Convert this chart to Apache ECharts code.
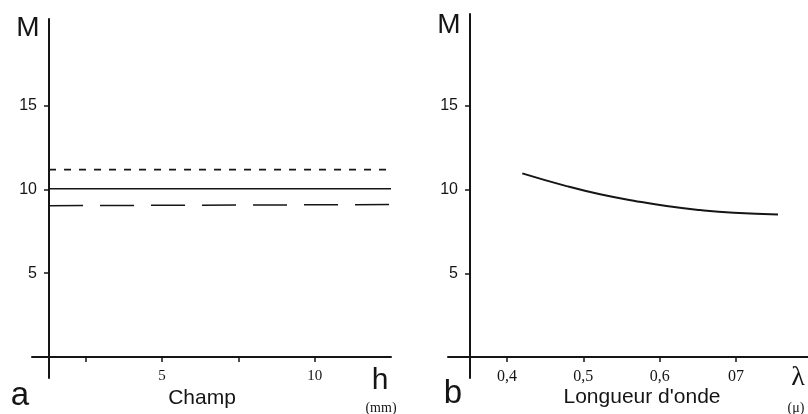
<!DOCTYPE html>
<html>
<head>
<meta charset="utf-8">
<script src="https://cdn.jsdelivr.net/npm/echarts@6/dist/echarts.min.js"></script>
<style>
html,body{margin:0;padding:0;background:#fff;}
#chart{width:808px;height:414px;}
</style>
</head>
<body>
<div id="chart"></div>
<script>
// ---- Panel a: M versus field h (mm) ----
var hValues = [1.3, 12.5];
var mShortDash = [11.18, 11.18];
var mSolid = [10.04, 10.04];
var mLongDash = [9.03, 9.1];
var hTickValues = [2.5, 5, 7.5, 10];
var hLabelValues = [5, 10];

// ---- Panel b: M versus wavelength (µ) ----
var lambdaValues = [0.42, 0.478, 0.522, 0.566, 0.609, 0.653, 0.697, 0.755];
var mLambda = [10.96, 10.2, 9.71, 9.33, 9.01, 8.77, 8.61, 8.51];
var lambdaTickValues = [0.4, 0.5, 0.6, 0.7];
var lambdaTickLabels = ['0,4', '0,5', '0,6', '07'];

var mTickValues = [5, 10, 15];

function pairs(xs, ys) { return xs.map(function (x, i) { return [x, ys[i]]; }); }

var INK = '#151515';
var SANS = '"Liberation Sans", Arial, sans-serif';
var SERIF = '"Liberation Serif", "Times New Roman", serif';

function yAxisCfg(gridIndex, offset, max) {
  return {
    type: 'value', gridIndex: gridIndex, position: 'left', offset: offset,
    min: -1.25, max: max,
    axisLine: { show: true, onZero: false, lineStyle: { color: INK, width: 2 } },
    axisTick: { show: true, length: 5, customValues: mTickValues, lineStyle: { color: INK, width: 1.5 } },
    axisLabel: { customValues: mTickValues, margin: 12, color: INK, fontSize: 16, fontFamily: SANS },
    splitLine: { show: false }
  };
}

var option = {
  animation: false,
  backgroundColor: '#ffffff',
  grid: [
    { left: 32, top: 19, width: 359, height: 359 },
    { left: 448, top: 14, width: 360, height: 364 }
  ],
  xAxis: [
    {
      type: 'value', gridIndex: 0, position: 'bottom', offset: -21,
      min: 0.742, max: 12.5,
      axisLine: { show: true, onZero: false, lineStyle: { color: INK, width: 2 } },
      axisTick: { show: true, length: 5, customValues: hTickValues, lineStyle: { color: INK, width: 1.5 } },
      axisLabel: { customValues: hLabelValues, margin: 12, color: INK, fontSize: 15, fontFamily: SERIF },
      splitLine: { show: false }
    },
    {
      type: 'value', gridIndex: 1, position: 'bottom', offset: -21,
      min: 0.3227, max: 0.7943,
      axisLine: { show: true, onZero: false, lineStyle: { color: INK, width: 2 } },
      axisTick: { show: true, length: 5, customValues: lambdaTickValues, lineStyle: { color: INK, width: 1.5 } },
      axisLabel: {
        customValues: lambdaTickValues, margin: 12, color: INK, fontSize: 16, fontFamily: SERIF,
        formatter: function (v) {
          for (var i = 0; i < lambdaTickValues.length; i++) {
            if (Math.abs(lambdaTickValues[i] - v) < 1e-6) return lambdaTickLabels[i];
          }
          return '';
        }
      },
      splitLine: { show: false }
    }
  ],
  yAxis: [
    yAxisCfg(0, -17, 20.17),
    yAxisCfg(1, -22, 20.47)
  ],
  series: [
    {
      type: 'line', xAxisIndex: 0, yAxisIndex: 0, symbol: 'none',
      data: pairs(hValues, mShortDash),
      lineStyle: { color: INK, width: 1.6, type: [7, 8] }
    },
    {
      type: 'line', xAxisIndex: 0, yAxisIndex: 0, symbol: 'none',
      data: pairs(hValues, mSolid),
      lineStyle: { color: INK, width: 1.5, type: 'solid' }
    },
    {
      type: 'line', xAxisIndex: 0, yAxisIndex: 0, symbol: 'none',
      data: pairs(hValues, mLongDash),
      lineStyle: { color: INK, width: 1.5, type: [34, 17] }
    },
    {
      type: 'line', xAxisIndex: 1, yAxisIndex: 1, symbol: 'none', smooth: true,
      data: pairs(lambdaValues, mLambda),
      lineStyle: { color: INK, width: 2 }
    }
  ],
  graphic: [
    { type: 'text', x: 28, y: 28, style: { text: 'M', font: '28px ' + SANS, fill: INK, align: 'center', verticalAlign: 'middle' } },
    { type: 'text', x: 449, y: 25, style: { text: 'M', font: '28px ' + SANS, fill: INK, align: 'center', verticalAlign: 'middle' } },
    { type: 'text', x: 20, y: 396, style: { text: 'a', font: '33px ' + SANS, fill: INK, align: 'center', verticalAlign: 'middle' } },
    { type: 'text', x: 453, y: 394, style: { text: 'b', font: '33px ' + SANS, fill: INK, align: 'center', verticalAlign: 'middle' } },
    { type: 'text', x: 202, y: 398, style: { text: 'Champ', font: '21px ' + SANS, fill: INK, align: 'center', verticalAlign: 'middle' } },
    { type: 'text', x: 642, y: 397, style: { text: "Longueur d'onde", font: '21px ' + SANS, fill: INK, align: 'center', verticalAlign: 'middle' } },
    { type: 'text', x: 380, y: 381, style: { text: 'h', font: '30px ' + SANS, fill: INK, align: 'center', verticalAlign: 'middle' } },
    { type: 'text', x: 381, y: 408, style: { text: '(mm)', font: '14px ' + SERIF, fill: INK, align: 'center', verticalAlign: 'middle' } },
    { type: 'text', x: 798, y: 378, style: { text: 'λ', font: '28px ' + SERIF, fill: INK, align: 'center', verticalAlign: 'middle' } },
    { type: 'text', x: 796, y: 408, style: { text: '(μ)', font: '14px ' + SERIF, fill: INK, align: 'center', verticalAlign: 'middle' } }
  ]
};

var chart = echarts.init(document.getElementById('chart'), null, { renderer: 'canvas' });
chart.setOption(option);
</script>
</body>
</html>
